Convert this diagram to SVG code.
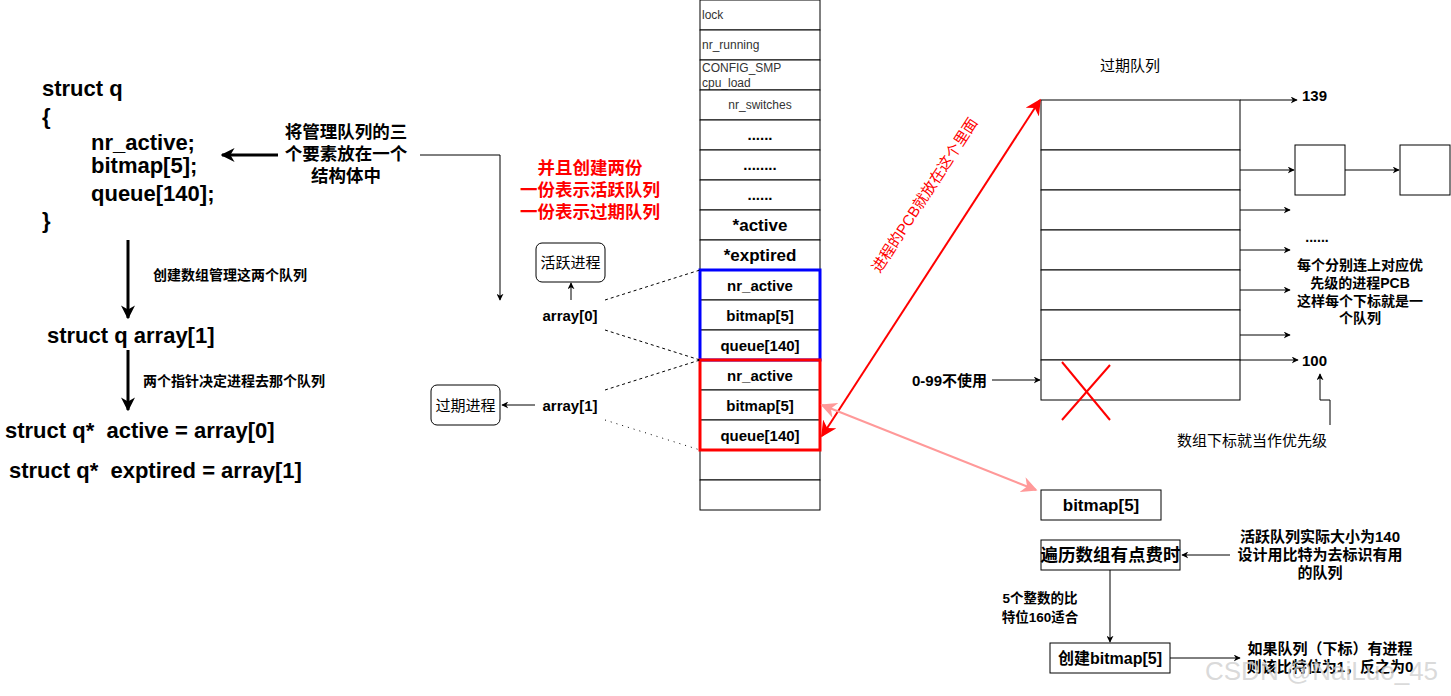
<svg xmlns="http://www.w3.org/2000/svg" width="1451" height="696" viewBox="0 0 1451 696">
<defs>
<marker id="ah" viewBox="0 0 10 10" refX="9" refY="5" markerWidth="7" markerHeight="7" orient="auto-start-reverse" markerUnits="userSpaceOnUse"><path d="M0,0 L10,5 L0,10 L3,5 Z" fill="#000"/></marker>
<marker id="ahb" viewBox="0 0 10 10" refX="9" refY="5" markerWidth="14" markerHeight="14" orient="auto-start-reverse" markerUnits="userSpaceOnUse"><path d="M0,0 L10,5 L0,10 L3,5 Z" fill="#000"/></marker>
<marker id="ahr" viewBox="0 0 10 10" refX="9" refY="5" markerWidth="16" markerHeight="16" orient="auto-start-reverse" markerUnits="userSpaceOnUse"><path d="M0,0 L10,5 L0,10 L3,5 Z" fill="#f00"/></marker>
<marker id="ahp" viewBox="0 0 10 10" refX="9" refY="5" markerWidth="16" markerHeight="16" orient="auto-start-reverse" markerUnits="userSpaceOnUse"><path d="M0,0 L10,5 L0,10 L3,5 Z" fill="#ff9999"/></marker>
</defs>
<style>
text{font-family:"Liberation Sans","Noto Sans CJK SC",sans-serif;fill:#000;white-space:pre}
.code{font-size:22px;font-weight:bold}
.b17{font-size:17.5px;font-weight:bold}
.b15{font-size:15px;font-weight:bold}
.b14{font-size:14px;font-weight:bold}
.n15{font-size:15px}
.s12{font-size:12px;fill:#333}
.red{fill:#f00}
.c{text-anchor:middle}
.cell{fill:#fff;stroke:#000;stroke-width:1}
.ln{stroke:#000;stroke-width:1;fill:none}
</style>
<rect width="1451" height="696" fill="#fff"/>

<g id="code">
<text class="code" x="42" y="96">struct q</text>
<text class="code" x="42" y="124">{</text>
<text class="code" x="91" y="150">nr_active;</text>
<text class="code" x="91" y="173">bitmap[5];</text>
<text class="code" x="91" y="201">queue[140];</text>
<text class="code" x="42" y="228">}</text>
<text class="code" x="47" y="343">struct q array[1]</text>
<text class="code" x="5" y="438">struct q*  active = array[0]</text>
<text class="code" x="9" y="478">struct q*  exptired = array[1]</text>
</g>

<g id="labels-left">
<text class="b17 c" x="346" y="138">将管理队列的三</text>
<text class="b17 c" x="346" y="160">个要素放在一个</text>
<text class="b17 c" x="346" y="182">结构体中</text>
<text class="b14" x="153" y="280">创建数组管理这两个队列</text>
<text class="b14" x="143" y="386">两个指针决定进程去那个队列</text>
<text class="b17 c red" x="590" y="174">并且创建两份</text>
<text class="b17 c red" x="590" y="196">一份表示活跃队列</text>
<text class="b17 c red" x="590" y="218">一份表示过期队列</text>
<text class="b15 c" x="570" y="321">array[0]</text>
<text class="b15 c" x="570" y="411">array[1]</text>
</g>

<g id="active-proc"><rect x="536" y="243" width="69" height="39" rx="6" class="cell"/><text class="n15 c" x="570.5" y="268">活跃进程</text></g>
<g id="expired-proc"><rect x="431" y="385" width="69" height="40" rx="6" class="cell"/><text class="n15 c" x="465.5" y="411">过期进程</text></g>

<g id="runqueue">
<rect x="700" y="0" width="120" height="30" class="cell"/><text class="s12" x="702" y="19">lock</text>
<rect x="700" y="30" width="120" height="30" class="cell"/><text class="s12" x="702" y="49">nr_running</text>
<rect x="700" y="60" width="120" height="30" class="cell"/><text class="s12" x="702" y="72">CONFIG_SMP</text><text class="s12" x="702" y="87">cpu_load</text>
<rect x="700" y="90" width="120" height="30" class="cell"/><text class="s12 c" x="760" y="109">nr_switches</text>
<rect x="700" y="120" width="120" height="30" class="cell"/><text class="b15 c" x="760" y="140">......</text>
<rect x="700" y="150" width="120" height="30" class="cell"/><text class="b15 c" x="760" y="170">........</text>
<rect x="700" y="180" width="120" height="30" class="cell"/><text class="b15 c" x="760" y="200">......</text>
<rect x="700" y="210" width="120" height="30" class="cell"/><text class="c" x="760" y="231" font-size="17" font-weight="bold">*active</text>
<rect x="700" y="240" width="120" height="30" class="cell"/><text class="c" x="760" y="261" font-size="17" font-weight="bold">*exptired</text>
<rect x="700" y="270" width="120" height="30" class="cell"/><text class="b15 c" x="760" y="291">nr_active</text>
<rect x="700" y="300" width="120" height="30" class="cell"/><text class="b15 c" x="760" y="321">bitmap[5]</text>
<rect x="700" y="330" width="120" height="30" class="cell"/><text class="b15 c" x="760" y="351">queue[140]</text>
<rect x="700" y="360" width="120" height="30" class="cell"/><text class="b15 c" x="760" y="381">nr_active</text>
<rect x="700" y="390" width="120" height="30" class="cell"/><text class="b15 c" x="760" y="411">bitmap[5]</text>
<rect x="700" y="420" width="120" height="30" class="cell"/><text class="b15 c" x="760" y="441">queue[140]</text>
<rect x="700" y="450" width="120" height="30" class="cell"/>
<rect x="700" y="480" width="120" height="30" class="cell"/>
<rect x="700" y="270" width="120" height="90" fill="none" stroke="#00f" stroke-width="3"/>
<rect x="700" y="360" width="120" height="90" fill="none" stroke="#f00" stroke-width="3"/>
</g>

<g id="prio-array">
<text class="n15 c" x="1130" y="71">过期队列</text>
<rect x="1041" y="100" width="199" height="50" class="cell"/>
<rect x="1041" y="150" width="199" height="40" class="cell"/>
<rect x="1041" y="190" width="199" height="40" class="cell"/>
<rect x="1041" y="230" width="199" height="40" class="cell"/>
<rect x="1041" y="270" width="199" height="40" class="cell"/>
<rect x="1041" y="310" width="199" height="50" class="cell"/>
<rect x="1041" y="360" width="199" height="40" class="cell"/>
<line x1="1062" y1="362" x2="1110" y2="420" stroke="#f00" stroke-width="2"/>
<line x1="1110" y1="365" x2="1062" y2="420" stroke="#f00" stroke-width="2"/>
<text class="b15" x="1302" y="101">139</text>
<text class="b15" x="1302" y="366">100</text>
<text class="b14 c" x="1317" y="242">......</text>
<text class="b14 c" x="1360" y="270">每个分别连上对应优</text>
<text class="b14 c" x="1360" y="288">先级的进程PCB</text>
<text class="b14 c" x="1360" y="306">这样每个下标就是一</text>
<text class="b14 c" x="1360" y="323">个队列</text>
<text class="b15" x="912" y="386">0-99不使用</text>
<text class="n15 c" x="1252" y="446">数组下标就当作优先级</text>
</g>
<g id="pcb1"><rect x="1295" y="145" width="50" height="50" class="cell"/></g>
<g id="pcb2"><rect x="1400" y="145" width="50" height="50" class="cell"/></g>

<g id="bitmap-box"><rect x="1041" y="490" width="120" height="30" class="cell"/><text class="c" x="1101" y="511" font-size="17" font-weight="bold">bitmap[5]</text></g>
<g id="traverse"><rect x="1041" y="540" width="139" height="30" class="cell"/><text class="b17 c" x="1110.5" y="561">遍历数组有点费时</text></g>
<g id="create-bitmap"><rect x="1050" y="643" width="120" height="30" class="cell"/><text class="c" x="1110" y="664" font-size="16" font-weight="bold">创建bitmap[5]</text></g>
<g id="notes-right">
<text class="b15 c" x="1320" y="542">活跃队列实际大小为140</text>
<text class="b15 c" x="1320" y="560">设计用比特为去标识有用</text>
<text class="b15 c" x="1320" y="578">的队列</text>
<text class="c" x="1040" y="603" font-size="13.5" font-weight="bold">5个整数的比</text>
<text class="c" x="1040" y="622" font-size="13.5" font-weight="bold">特位160适合</text>
<text class="b15 c" x="1330" y="654">如果队列（下标）有进程</text>
<text class="b15 c" x="1330" y="672">则该比特位为1，反之为0</text>
</g>

<g id="connectors">
<line x1="278" y1="155" x2="222" y2="155" stroke="#000" stroke-width="3" marker-end="url(#ahb)"/>
<polyline points="420,155 500,155 500,300" class="ln" marker-end="url(#ah)"/>
<line x1="128" y1="240" x2="128" y2="318" stroke="#000" stroke-width="3" marker-end="url(#ahb)"/>
<line x1="128" y1="350" x2="128" y2="410" stroke="#000" stroke-width="3" marker-end="url(#ahb)"/>
<line x1="571" y1="300" x2="571" y2="283" class="ln" marker-end="url(#ah)"/>
<line x1="535" y1="405" x2="502" y2="405" class="ln" marker-end="url(#ah)"/>
<line x1="605" y1="300" x2="700" y2="270" class="ln" stroke-dasharray="3 3"/>
<line x1="605" y1="330" x2="700" y2="360" class="ln" stroke-dasharray="3 3"/>
<line x1="605" y1="390" x2="700" y2="360" class="ln" stroke-dasharray="3 3"/>
<line x1="605" y1="420" x2="700" y2="450" class="ln" stroke-dasharray="1 5" stroke-width="1.5"/>
<line x1="822" y1="436" x2="1040" y2="100" stroke="#f00" stroke-width="2" marker-start="url(#ahr)" marker-end="url(#ahr)"/>
<text class="red" font-size="15" transform="translate(929,198) rotate(-57)" text-anchor="middle">进程的PCB就放在这个里面</text>
<line x1="822" y1="405" x2="1036" y2="490" stroke="#ff9999" stroke-width="2" marker-start="url(#ahp)" marker-end="url(#ahp)"/>
<line x1="1240" y1="100" x2="1297" y2="100" class="ln" marker-end="url(#ah)"/>
<line x1="1240" y1="170" x2="1294" y2="170" class="ln" marker-end="url(#ah)"/>
<line x1="1345" y1="170" x2="1399" y2="170" class="ln" marker-end="url(#ah)"/>
<line x1="1240" y1="210" x2="1290" y2="210" class="ln" marker-end="url(#ah)"/>
<line x1="1240" y1="250" x2="1290" y2="250" class="ln" marker-end="url(#ah)"/>
<line x1="1240" y1="290" x2="1290" y2="290" class="ln" marker-end="url(#ah)"/>
<line x1="1240" y1="335" x2="1290" y2="335" class="ln" marker-end="url(#ah)"/>
<line x1="1240" y1="360" x2="1298" y2="360" class="ln" marker-end="url(#ah)"/>
<line x1="992" y1="380" x2="1040" y2="380" class="ln" marker-end="url(#ah)"/>
<polyline points="1330,425 1330,400 1320,400 1320,374" class="ln" marker-end="url(#ah)"/>
<line x1="1230" y1="555" x2="1182" y2="555" class="ln" marker-end="url(#ah)"/>
<line x1="1110" y1="570" x2="1110" y2="642" class="ln" marker-end="url(#ah)"/>
<line x1="1170" y1="658" x2="1240" y2="658" class="ln" marker-end="url(#ah)"/>
</g>
<text x="1205" y="680" font-size="26" style="fill:#d0d0d0;fill-opacity:0.8">CSDN @NaiLuo_45</text>
</svg>
